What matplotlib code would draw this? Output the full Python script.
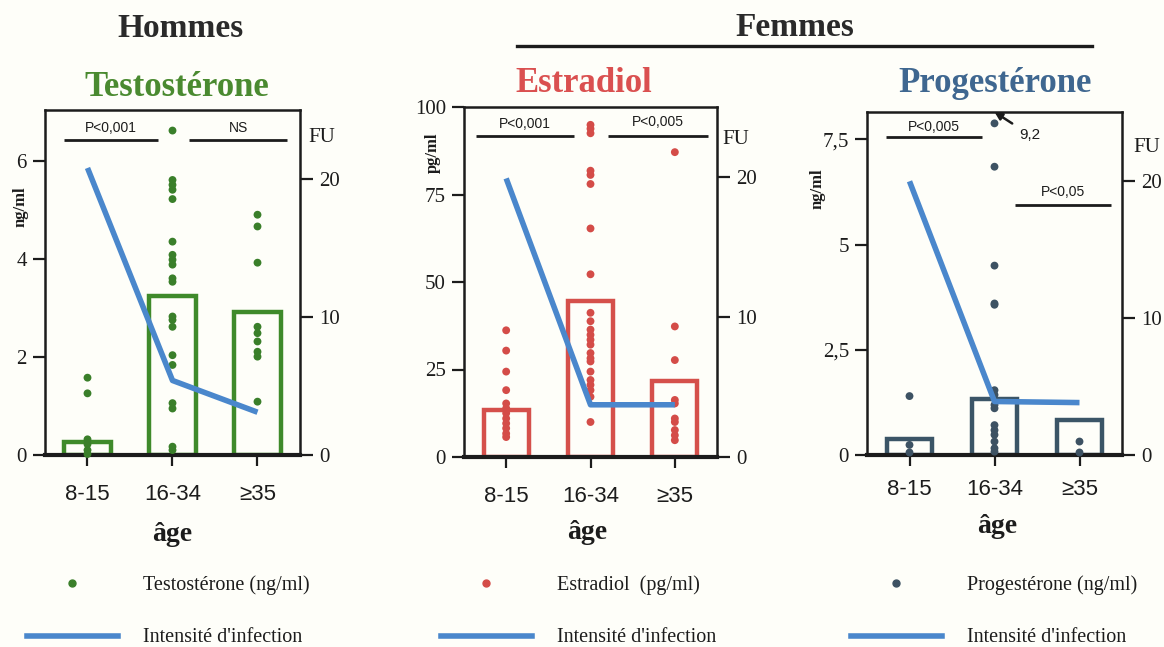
import matplotlib.pyplot as plt
from matplotlib.lines import Line2D

# groupes d'age
ages = ['8-15', '16-34', '≥35']

# Testosterone (ng/ml) - hommes
testo_pts = [
    [1.58, 1.26, 0.32, 0.22, 0.1, 0.02],
    [6.63, 5.62, 5.52, 5.42, 5.23, 4.36, 4.09, 3.99, 3.89, 3.61, 3.54,
     2.83, 2.76, 2.62, 2.04, 1.84, 1.06, 0.95, 0.17, 0.1],
    [4.91, 4.67, 3.93, 2.62, 2.49, 2.32, 2.11, 2.01, 1.09],
]
testo_mean = [0.27, 3.25, 2.93]
testo_fu = [20.8, 5.4, 3.1]

# Estradiol (pg/ml) - femmes
estra_pts = [
    [36.2, 30.4, 24.4, 19.1, 15.3, 13.9, 12.5, 11.0, 9.6, 8.2, 6.7, 5.7],
    [94.9, 93.8, 92.5, 81.8, 80.6, 78.0, 65.3, 52.2, 41.2, 38.8, 36.4, 34.9,
     33.5, 32.1, 29.7, 28.2, 27.3, 24.4, 22.0, 20.6, 19.1, 17.2, 10.0],
    [87.1, 37.3, 27.7, 16.3, 15.3, 11.0, 10.0, 7.7, 6.2, 4.8],
]
estra_mean = [13.4, 44.6, 21.7]
estra_fu = [19.9, 3.73, 3.73]

# Progesterone (ng/ml) - femmes
proges_pts = [
    [1.40, 0.24, 0.06],
    [7.88, 6.85, 4.50, 3.60, 3.57, 1.54, 1.43, 1.19, 1.11, 0.71, 0.59,
     0.48, 0.32, 0.16, 0.08],
    [0.32, 0.06],
]
proges_mean = [0.38, 1.32, 0.82]
proges_fu = [19.95, 3.9, 3.82]

W, H = 1164, 647
fig = plt.figure(figsize=(W / 100, H / 100), dpi=100, facecolor='#fefef9')

serif = ['Liberation Serif', 'DejaVu Serif']
sans = ['Liberation Sans', 'DejaVu Sans']
blue = '#4a87cc'
ink = '#1c1c1c'


def px(x, y):
    return x / W, 1 - y / H


def panel(rect, pts, mean, fu, color, dotcolor, ylim, yticks, yticklabels,
          barw, xlab_pad):
    l, t, r, b = rect
    ax = fig.add_axes([l / W, 1 - b / H, (r - l) / W, (b - t) / H])
    ax.set_facecolor('none')
    x = range(len(ages))
    ax.bar(x, mean, width=barw, fill=False, edgecolor=color, linewidth=3.2,
           zorder=1)
    for i, vals in enumerate(pts):
        ax.scatter([i] * len(vals), vals, s=32, color=dotcolor,
                   edgecolors='none', zorder=3, clip_on=False)
    ax.set_xlim(-0.5, 2.5)
    ax.set_ylim(*ylim)
    ax.set_yticks(yticks)
    ax.set_yticklabels(yticklabels, fontfamily=serif, fontsize=15)
    ax.set_xticks(list(x))
    ax.set_xticklabels(ages, fontfamily=sans, fontsize=16)
    ax.tick_params(axis='y', direction='out', length=9, width=1.6,
                   color=ink, labelcolor=ink, pad=4)
    ax.tick_params(axis='x', direction='out', length=8, width=1.6,
                   color=ink, labelcolor=ink, pad=xlab_pad)
    for s in ['left', 'top', 'right']:
        ax.spines[s].set_linewidth(1.8)
        ax.spines[s].set_color(ink)
    ax.spines['bottom'].set_linewidth(3)
    ax.spines['bottom'].set_color(ink)

    ax2 = ax.twinx()
    ax2.plot(list(x), fu, color=blue, linewidth=4, solid_capstyle='butt',
             zorder=4)
    ax2.set_ylim(0, 25)
    ax2.set_yticks([0, 10, 20])
    ax2.set_yticklabels(['0', '10', '20'], fontfamily=serif, fontsize=15)
    ax2.tick_params(axis='y', direction='out', length=9, width=1.6,
                    color=ink, labelcolor=ink, pad=5)
    for s in ax2.spines.values():
        s.set_visible(False)
    return ax, ax2


def sig(ax, x0, x1, y, ytxt, label):
    ax.plot([x0, x1], [y, y], color=ink, linewidth=2, clip_on=False,
            solid_capstyle='butt')
    ax.text((x0 + x1) / 2, ytxt, label, ha='center', va='center',
            fontfamily=sans, fontsize=10, color=ink)


green = '#3f8a2b'
red = '#d5504b'
slate = '#3b5567'

# Testosterone
ax1, _ = panel((45, 110, 300, 455), testo_pts, testo_mean, testo_fu,
               green, '#3a7f2a', (0, 7.05), [0, 2, 4, 6],
               ['0', '2', '4', '6'], 0.55, 13)
sig(ax1, -0.28, 0.83, 6.44, 6.68, 'P<0,001')
sig(ax1, 1.2, 2.35, 6.44, 6.68, 'NS')

# Estradiol
ax2, _ = panel((464, 107, 717, 457), estra_pts, estra_mean, estra_fu,
               red, '#d44c48', (0, 100), [0, 25, 50, 75, 100],
               ['0', '25', '50', '75', '100'], 0.53, 13)
sig(ax2, -0.36, 0.80, 91.8, 95.0, 'P<0,001')
sig(ax2, 1.21, 2.39, 91.8, 95.6, 'P<0,005')

# Progesterone
ax3, _ = panel((867, 112, 1122, 455), proges_pts, proges_mean, proges_fu,
               slate, '#3d5263', (0, 8.15), [0, 2.5, 5, 7.5],
               ['0', '2,5', '5', '7,5'], 0.53, 9)
sig(ax3, -0.28, 0.85, 7.55, 7.8, 'P<0,005')
sig(ax3, 1.24, 2.37, 5.95, 6.25, 'P<0,05')
ax3.annotate('9,2', xy=(1.0, 8.15), xytext=(1.42, 7.6), ha='center',
             va='center', fontfamily=sans, fontsize=11, color=ink,
             annotation_clip=False,
             arrowprops=dict(arrowstyle='-|>', color=ink, lw=1.8,
                             mutation_scale=11, shrinkA=4, shrinkB=0))

# en-tetes
fig.text(*px(181, 37), 'Hommes', ha='center', va='baseline',
         fontfamily=serif, fontsize=24, fontweight='bold', color='#2a2a2a')
fig.text(*px(795, 36), 'Femmes', ha='center', va='baseline',
         fontfamily=serif, fontsize=24, fontweight='bold', color='#2a2a2a')
fig.add_artist(Line2D([517 / W, 1092 / W], [1 - 46 / H, 1 - 46 / H],
                      color=ink, linewidth=2.4))
fig.text(*px(177, 96), 'Testostérone', ha='center', va='baseline',
         fontfamily=serif, fontsize=25, fontweight='bold', color='#4a8a30')
fig.text(*px(584, 92), 'Estradiol', ha='center', va='baseline',
         fontfamily=serif, fontsize=25, fontweight='bold', color='#da5050')
fig.text(*px(995, 92), 'Progestérone', ha='center', va='baseline',
         fontfamily=serif, fontsize=25, fontweight='bold', color='#3f6790')

# unites des axes
for xx, yy, lab in [(21, 207, 'ng/ml'), (433, 153, 'pg/ml'),
                    (818, 189, 'ng/ml')]:
    fig.text(*px(xx, yy), lab, rotation=90, ha='center', va='center',
             fontfamily=serif, fontsize=12, fontweight='bold', color=ink)
for xx, yy in [(322, 138), (736, 139), (1147, 147)]:
    fig.text(*px(xx, yy), 'FU', ha='center', va='center',
             fontfamily=serif, fontsize=15, color=ink)
for xx, yy in [(172, 541), (587, 539), (997, 533)]:
    fig.text(*px(xx, yy), 'âge', ha='center', va='baseline',
             fontfamily=serif, fontsize=20, fontweight='bold', color=ink)

# legendes
legend = [(27, 'Testostérone (ng/ml)', '#3a7f2a'),
          (441, 'Estradiol  (pg/ml)', '#d44c48'),
          (851, 'Progestérone (ng/ml)', '#3d5263')]
for x0, lab, c in legend:
    fig.add_artist(Line2D([(x0 + 45) / W], [1 - 583 / H], marker='o',
                          markersize=5, color=c, linestyle='none'))
    fig.text(*px(x0 + 116, 585), lab, ha='left', va='center',
             fontfamily=serif, fontsize=14.5, color=ink)
    fig.add_artist(Line2D([x0 / W, (x0 + 91) / W], [1 - 636 / H, 1 - 636 / H],
                          color=blue, linewidth=4))
    fig.text(*px(x0 + 116, 637), "Intensité d'infection", ha='left',
             va='center', fontfamily=serif, fontsize=14.5, color=ink)

fig.savefig('out.png', dpi=100, facecolor=fig.get_facecolor())
